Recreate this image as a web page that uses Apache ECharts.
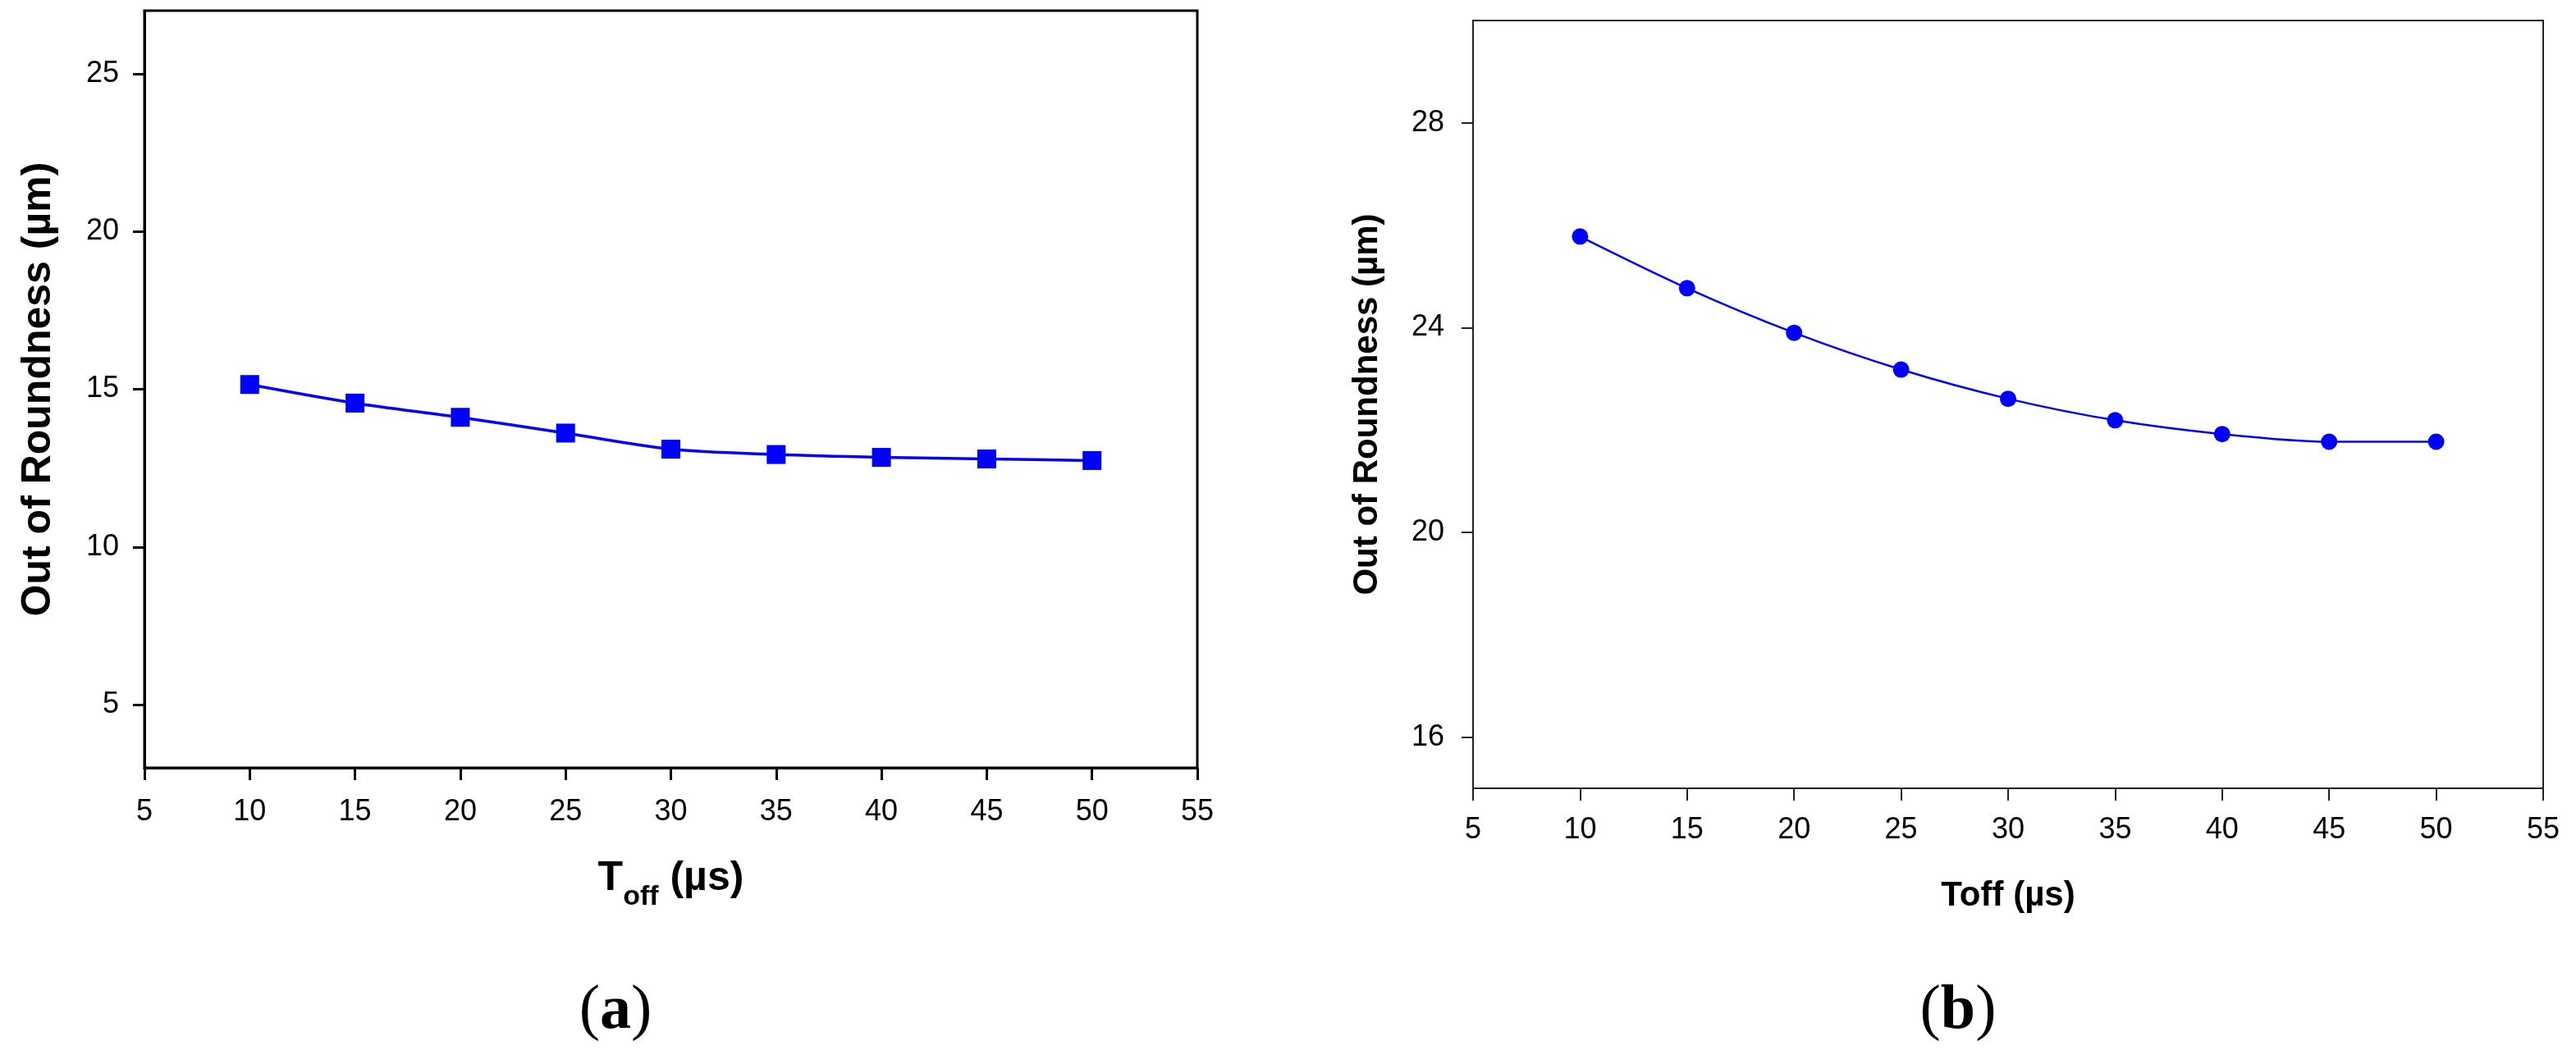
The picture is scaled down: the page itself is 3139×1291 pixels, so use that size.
<!DOCTYPE html>
<html>
<head>
<meta charset="utf-8">
<script src="https://cdn.jsdelivr.net/npm/echarts@6/dist/echarts.min.js"></script>
<style>
html,body{margin:0;padding:0;background:#fff;}
#c{width:3139px;height:1291px;}
</style>
</head>
<body>
<div id="c"></div>
<script>
// ---- data ----
const toff = [10, 15, 20, 25, 30, 35, 40, 45, 50];
const roundnessA = [15.15, 14.56, 14.11, 13.61, 13.10, 12.93, 12.84, 12.79, 12.74];
const roundnessB = [25.78, 24.77, 23.90, 23.18, 22.61, 22.19, 21.92, 21.77, 21.77];
const yTicksA = [5, 10, 15, 20, 25];
const yTicksB = [16, 20, 24, 28];
const xTicks = [5, 10, 15, 20, 25, 30, 35, 40, 45, 50, 55];
const yTitle = 'Out of Roundness (\u00b5m)';
const xTitleB = 'Toff (\u00b5s)';
const captions = ['a', 'b'];

const FONT = '"Liberation Sans", Arial, sans-serif';
const SERIF = '"Liberation Serif", "DejaVu Serif", serif';
const BLUE = '#0000ff';

function pairs(xs, ys){ return xs.map((x,i)=>[x, ys[i]]); }

const chart = echarts.init(document.getElementById('c'), null, {renderer:'canvas'});

function xAxisCfg(gridIndex, lineW, lineColor, margin, name, nameGap, nameStyle){
  return {
    type:'value', gridIndex, min:5, max:55, interval:5,
    axisLine:{show:true, onZero:false, lineStyle:{color:lineColor, width:lineW}},
    axisTick:{show:true, length:15, lineStyle:{color:lineColor, width:lineW}, customValues:xTicks},
    axisLabel:{show:true, color:'#000', fontFamily:FONT, fontSize:36, margin, customValues:xTicks},
    splitLine:{show:false},
    name, nameLocation:'middle', nameGap, nameTextStyle:nameStyle
  };
}
function yAxisCfg(gridIndex, min, max, ticks, lineW, lineColor, margin, nameGap, nameSize){
  return {
    type:'value', gridIndex, min, max,
    axisLine:{show:true, onZero:false, lineStyle:{color:lineColor, width:lineW}},
    axisTick:{show:true, length:14, lineStyle:{color:lineColor, width:lineW}, customValues:ticks},
    axisLabel:{show:true, color:'#000', fontFamily:FONT, fontSize:36, margin, customValues:ticks},
    splitLine:{show:false},
    name:yTitle, nameLocation:'middle', nameGap, nameRotate:90,
    nameTextStyle:{color:'#000', fontFamily:FONT, fontWeight:'bold', fontSize:nameSize}
  };
}
function caption(letter, cx, cy){
  return {type:'text', x:cx, y:cy, style:{
    text:'{p|(}{l|' + letter + '}{p|)}', align:'center', verticalAlign:'middle',
    rich:{p:{fontFamily:SERIF, fontSize:76, color:'#000'},
          l:{fontFamily:SERIF, fontSize:76, fontWeight:'bold', color:'#000'}}
  }};
}

const option = {
  backgroundColor:'#fff',
  animation:false,
  grid:[
    {left:176, top:13, width:1283, height:923, show:true, borderColor:'#000', borderWidth:3, backgroundColor:'transparent', containLabel:false, outerBoundsMode:'none'},
    {left:1795, top:25, width:1304, height:936, show:true, borderColor:'#222', borderWidth:2, backgroundColor:'transparent', containLabel:false, outerBoundsMode:'none'}
  ],
  xAxis:[
    xAxisCfg(0, 3, '#000', 36, '{a|T}{b|off}{a| (\u00b5s)}', 95, {
      rich:{
        a:{fontFamily:FONT, fontWeight:'bold', fontSize:50, lineHeight:80, color:'#000', verticalAlign:'middle'},
        b:{fontFamily:FONT, fontWeight:'bold', fontSize:34, lineHeight:34, color:'#000', verticalAlign:'bottom'}
      }
    }),
    xAxisCfg(1, 2, '#222', 33, xTitleB, 110, {color:'#000', fontFamily:FONT, fontWeight:'bold', fontSize:42})
  ],
  yAxis:[
    yAxisCfg(0, 3, 27, yTicksA, 3, '#000', 31, 104, 50),
    yAxisCfg(1, 15, 30, yTicksB, 2, '#222', 35, 108, 42)
  ],
  series:[
    {type:'line', xAxisIndex:0, yAxisIndex:0, data:pairs(toff, roundnessA), smooth:0.3,
     symbol:'rect', symbolSize:23, lineStyle:{color:BLUE, width:3.5}, itemStyle:{color:BLUE}},
    {type:'line', xAxisIndex:1, yAxisIndex:1, data:pairs(toff, roundnessB), smooth:0.3,
     symbol:'circle', symbolSize:20, lineStyle:{color:BLUE, width:2.5}, itemStyle:{color:BLUE}}
  ],
  graphic:[
    caption(captions[0], 750, 1233),
    caption(captions[1], 2386, 1233)
  ]
};
chart.setOption(option);
</script>
</body>
</html>
